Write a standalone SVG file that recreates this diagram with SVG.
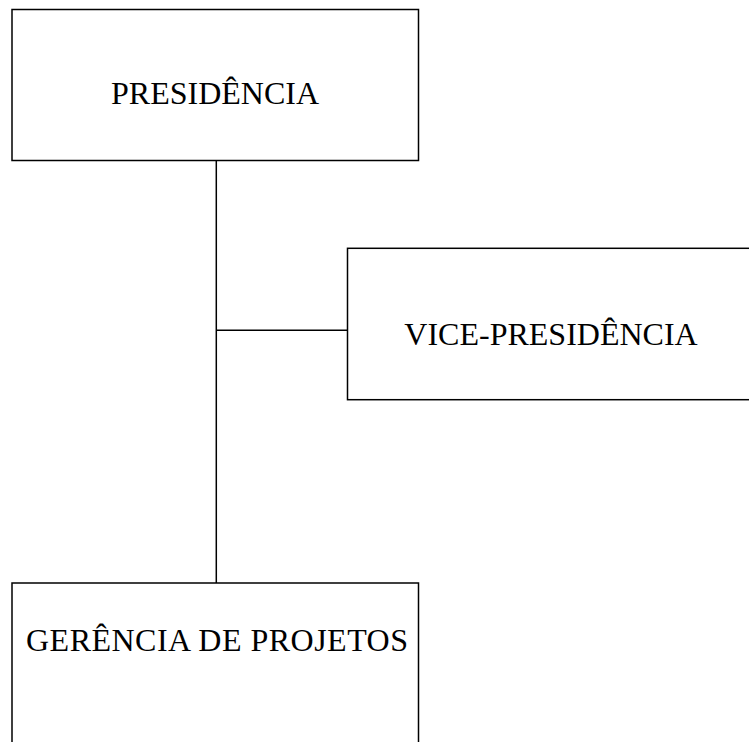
<svg xmlns="http://www.w3.org/2000/svg" width="749" height="742" viewBox="0 0 749 742">
<style>
.box{fill:#fff;stroke:#000;stroke-width:1.5}
.lbl{font-family:"Liberation Serif","Times New Roman",serif;font-size:32px;fill:#000;text-anchor:middle}
.conn{stroke:#000;stroke-width:1.5;fill:none}
</style>
<rect width="749" height="742" fill="#fff"/>
<g id="connectors">
<line class="conn" x1="216.3" y1="160.5" x2="216.3" y2="583"/>
<line class="conn" x1="216.3" y1="330.3" x2="347.5" y2="330.3"/>
</g>
<g id="presidencia">
<rect class="box" x="12" y="9.5" width="406.5" height="151"/>
<text class="lbl" x="215" y="104">PRESIDÊNCIA</text>
</g>
<g id="vice-presidencia">
<rect class="box" x="347.5" y="248.3" width="408" height="151.4"/>
<text class="lbl" x="551" y="345">VICE-PRESIDÊNCIA</text>
</g>
<g id="gerencia-projetos">
<rect class="box" x="12" y="583" width="406.5" height="180"/>
<text class="lbl" x="217" y="651" textLength="382" lengthAdjust="spacing">GERÊNCIA DE PROJETOS</text>
</g>
</svg>
